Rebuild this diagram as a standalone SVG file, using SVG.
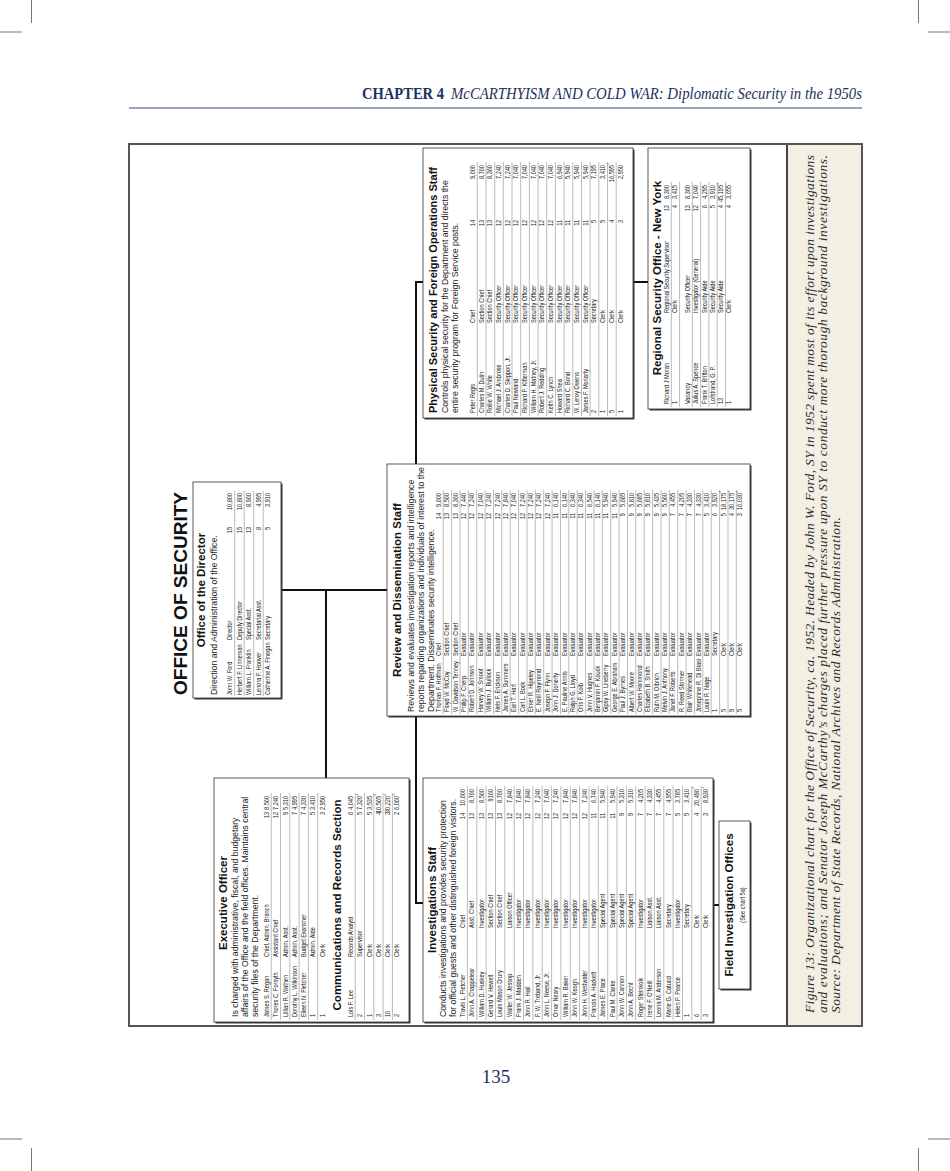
<svg xmlns="http://www.w3.org/2000/svg" width="950" height="1171" viewBox="0 0 950 1171">
<style>
.t{font-family:"Liberation Sans",Arial,sans-serif;font-weight:bold;font-size:11.5px;fill:#111;text-anchor:middle}
.d{font-family:"Liberation Sans",Arial,sans-serif;font-size:8.7px;fill:#222}
.r{font-family:"Liberation Sans",Arial,sans-serif;font-size:8px;fill:#222}
.r .e{text-anchor:end}
.r .m{text-anchor:middle}
.r .a{font-size:6px}
.sep{stroke:#8c8c8c;stroke-width:0.6;fill:none}
.box{fill:#fff;stroke:#333;stroke-width:0.8}
.sh{fill:#3a3a3a}
.conn{stroke:#111;stroke-width:2;fill:none}
.cap{font-family:"Liberation Serif","Times New Roman",serif;font-style:italic;font-size:13.5px;fill:#2b2b2b}
.crop{stroke:#777;stroke-width:1}
</style>
<rect x="0" y="0" width="950" height="1171" fill="#fff"/>
<g id="cropmarks">
<line class="crop" x1="31.5" y1="0" x2="31.5" y2="23"/><line class="crop" x1="0" y1="32" x2="22" y2="32"/>
<line class="crop" x1="918.5" y1="0" x2="918.5" y2="23"/><line class="crop" x1="928" y1="32" x2="950" y2="32"/>
<line class="crop" x1="31.5" y1="1148" x2="31.5" y2="1171"/><line class="crop" x1="0" y1="1139" x2="22" y2="1139"/>
<line class="crop" x1="918.5" y1="1148" x2="918.5" y2="1171"/><line class="crop" x1="928" y1="1139" x2="950" y2="1139"/>
</g>
<g id="header">
<text x="362" y="99" font-family="Liberation Serif,serif" font-weight="bold" font-size="16.5" fill="#1d3160" textLength="82" lengthAdjust="spacingAndGlyphs">CHAPTER 4</text>
<text x="451" y="99" font-family="Liberation Serif,serif" font-style="italic" font-size="16.5" fill="#1d3160" textLength="411" lengthAdjust="spacingAndGlyphs">McCARTHYISM AND COLD WAR: Diplomatic Security in the 1950s</text>
<line x1="129" y1="108" x2="862" y2="108" stroke="#98a6bb" stroke-width="2.2"/>
</g>
<g id="frame">
<rect x="787" y="144" width="75" height="882" fill="#f3efe3"/>
<line x1="787" y1="144" x2="787" y2="1026" stroke="#444" stroke-width="2"/>
<rect x="129" y="144" width="733" height="882" fill="none" stroke="#555" stroke-width="2"/>
</g>
<g id="caption" transform="translate(0,1013) rotate(-90)">
<text class="cap" x="0" y="814" textLength="858" lengthAdjust="spacing">Figure 13: Organizational chart for the Office of Security, ca. 1952.  Headed by John W. Ford, SY in 1952 spent most of its effort upon investigations</text>
<text class="cap" x="0" y="827" textLength="858" lengthAdjust="spacing">and evaluations; and Senator Joseph McCarthy’s charges placed further pressure upon SY to conduct more thorough background investigations.</text>
<text class="cap" x="0" y="840" textLength="496" lengthAdjust="spacing">Source: Department of State Records, National Archives and Records Administration.</text>
</g>
<text id="pagenum" x="496" y="1083" font-family="Liberation Serif,serif" font-size="19" fill="#1d3160" text-anchor="middle">135</text>
<g id="chart-title" transform="translate(187,593.5) rotate(-90)">
<text x="0" y="0" font-family="Liberation Sans,Arial,sans-serif" font-weight="bold" font-size="19" fill="#111" text-anchor="middle" textLength="203" lengthAdjust="spacingAndGlyphs">OFFICE OF SECURITY</text>
</g>
<g id="connectors">
<path class="conn" d="M281,590H387"/>
<path class="conn" d="M326,590V778"/>
<path class="conn" d="M423,282H416V903H423"/>
<path class="conn" d="M633,282H648"/>
<path class="conn" d="M713,905H719"/>
</g>
<g id="director">
<rect class="sh" x="194.5" y="483.5" width="88" height="216"/>
<rect class="box" x="193" y="482" width="88" height="216"/>
<g transform="translate(193,698) rotate(-90)">
<text class="t" x="108" y="12">Office of the Director</text>
<text class="d" x="3" y="24">Direction and Administration of the Office.</text>
<path class="sep" d="M2,41.7H207M2,51.2H207M2,60.7H207M2,70.2H207"/>
<g class="r" transform="scale(0.7,1)">
<text x="4.3" y="39.5">John W. Ford</text><text x="82.9" y="39.5">Director</text><text class="e" x="244.3" y="39.5">15</text><text class="e" x="292.9" y="39.5">10,800</text>
<text x="4.3" y="49">Herbert F. Linneman</text><text x="82.9" y="49">Deputy Director</text><text class="e" x="244.3" y="49">15</text><text class="e" x="292.9" y="49">10,800</text>
<text x="4.3" y="58.5">William L. Franklin</text><text x="82.9" y="58.5">Special Asst.</text><text class="e" x="244.3" y="58.5">13</text><text class="e" x="292.9" y="58.5">8,960</text>
<text x="4.3" y="68">Lenora F. Hoover</text><text x="82.9" y="68">Secretarial Asst.</text><text class="e" x="244.3" y="68">8</text><text class="e" x="292.9" y="68">4,995</text>
<text x="4.3" y="77.5">Catherine A. Finegan</text><text x="82.9" y="77.5">Secretary</text><text class="e" x="244.3" y="77.5">5</text><text class="e" x="292.9" y="77.5">3,910</text>
</g></g></g>
<g id="executive">
<rect class="sh" x="215.5" y="779.5" width="195" height="244"/>
<rect class="box" x="214" y="778" width="195" height="244"/>
<g transform="translate(214,1022) rotate(-90)">
<text class="t" x="119" y="13">Executive Officer</text>
<text class="d" x="5" y="23.5">Is charged with administrative, fiscal, and budgetary</text>
<text class="d" x="5" y="33.5">affairs of the Office and the field offices. Maintains central</text>
<text class="d" x="5" y="43.5">security files of the Department.</text>
<text class="t" x="117" y="127">Communications and Records Section</text>
<path class="sep" d="M2,57.2H229M2,66.5H229M2,75.8H229M2,85.1H229M2,94.4H229M2,103.7H229M2,141.2H229M2,150.5H229M2,159.8H229M2,169.1H229M2,178.4H229"/>
<g class="r" transform="scale(0.7,1)">
<text x="7.1" y="55">James S. Regan</text><text x="92.9" y="55">Chief, Admin. Branch</text><text class="e" x="300" y="55">13</text><text class="e" x="322.9" y="55">8,560</text>
<text x="7.1" y="64.3">Thores C. Forsyth</text><text x="92.9" y="64.3">Assistant Chief</text><text class="e" x="300" y="64.3">12</text><text class="e" x="322.9" y="64.3">7,240</text>
<text x="7.1" y="73.6">Lillian R. Wathen</text><text x="92.9" y="73.6">Admin. Asst.</text><text class="e" x="300" y="73.6">9</text><text class="e" x="322.9" y="73.6">5,310</text>
<text x="7.1" y="82.9">Dorothy L. Wilkinson</text><text x="92.9" y="82.9">Admin. Asst.</text><text class="e" x="300" y="82.9">7</text><text class="e" x="322.9" y="82.9">4,995</text>
<text x="7.1" y="92.2">Eileen N. Fletcher</text><text x="92.9" y="92.2">Budget Examiner</text><text class="e" x="300" y="92.2">7</text><text class="e" x="322.9" y="92.2">4,330</text>
<text x="7.1" y="101.5">1</text><text x="92.9" y="101.5">Admin. Aide</text><text class="e" x="300" y="101.5">5</text><text class="e" x="322.9" y="101.5">3,410</text>
<text x="7.1" y="110.8">1</text><text x="92.9" y="110.8">Clerk</text><text class="e" x="300" y="110.8">3</text><text class="e" x="322.9" y="110.8">2,950</text>
<text x="7.1" y="139">Lois F. Lee</text><text x="92.9" y="139">Records Analyst</text><text class="e" x="300" y="139">6</text><text class="e" x="322.9" y="139">4,045</text>
<text x="7.1" y="148.3">2</text><text x="92.9" y="148.3">Supervisor</text><text class="e" x="300" y="148.3">5</text><text class="e" x="322.9" y="148.3">7,320</text><text class="a" x="323.3" y="145.8">*</text>
<text x="7.1" y="157.6">1</text><text x="92.9" y="157.6">Clerk</text><text class="e" x="300" y="157.6">5</text><text class="e" x="322.9" y="157.6">3,535</text>
<text x="7.1" y="166.9">3</text><text x="92.9" y="166.9">Clerk</text><text class="e" x="300" y="166.9">4</text><text class="e" x="322.9" y="166.9">10,565</text><text class="a" x="323.3" y="164.4">*</text>
<text x="7.1" y="176.2">10</text><text x="92.9" y="176.2">Clerk</text><text class="e" x="300" y="176.2">3</text><text class="e" x="322.9" y="176.2">30,220</text><text class="a" x="323.3" y="173.7">*</text>
<text x="7.1" y="185.5">2</text><text x="92.9" y="185.5">Clerk</text><text class="e" x="300" y="185.5">2</text><text class="e" x="322.9" y="185.5">6,060</text><text class="a" x="323.3" y="183">*</text>
</g></g></g>
<g id="investigations">
<rect class="sh" x="424.5" y="779.5" width="290" height="244"/>
<rect class="box" x="423" y="778" width="290" height="244"/>
<g transform="translate(423,1022) rotate(-90)">
<text class="t" x="122" y="13">Investigations Staff</text>
<text class="d" x="5" y="23">Conducts investigations and provides security protection</text>
<text class="d" x="5" y="32.5">for official guests and other distinguished foreign visitors.</text>
<path class="sep" d="M2,44.4H236M2,53.8H236M2,63.1H236M2,72.5H236M2,81.8H236M2,91.2H236M2,100.5H236M2,109.9H236M2,119.2H236M2,128.6H236M2,137.9H236M2,147.3H236M2,156.6H236M2,166H236M2,175.3H236M2,184.7H236M2,194H236M2,203.4H236M2,212.7H236M2,222.1H236M2,231.4H236M2,240.8H236M2,250.1H236M2,259.5H236M2,268.8H236M2,278.2H236"/>
<g class="r" transform="scale(0.7,1)">
<text x="7.1" y="42">Travis L. Fletcher</text><text x="134.3" y="42">Chief</text><text class="e" x="298.6" y="42">14</text><text class="e" x="332.9" y="42">10,600</text>
<text x="7.1" y="51.4">John A. Chappelear</text><text x="134.3" y="51.4">Asst. Chief</text><text class="e" x="298.6" y="51.4">13</text><text class="e" x="332.9" y="51.4">8,760</text>
<text x="7.1" y="60.7">William D. Huskey</text><text x="134.3" y="60.7">Investigator</text><text class="e" x="298.6" y="60.7">13</text><text class="e" x="332.9" y="60.7">8,560</text>
<text x="7.1" y="70.1">Gerard V. Hewelt</text><text x="134.3" y="70.1">Section Chief</text><text class="e" x="298.6" y="70.1">13</text><text class="e" x="332.9" y="70.1">9160</text>
<text x="7.1" y="79.4">Louis Mason Drury</text><text x="134.3" y="79.4">Section Chief</text><text class="e" x="298.6" y="79.4">13</text><text class="e" x="332.9" y="79.4">8,760</text>
<text x="7.1" y="88.8">Walter W. Jessop</text><text x="134.3" y="88.8">Liaison Officer</text><text class="e" x="298.6" y="88.8">12</text><text class="e" x="332.9" y="88.8">7,840</text>
<text x="7.1" y="98.1">Frank J. Madden</text><text x="134.3" y="98.1">Investigator</text><text class="e" x="298.6" y="98.1">12</text><text class="e" x="332.9" y="98.1">7,840</text>
<text x="7.1" y="107.5">John R. Hall</text><text x="134.3" y="107.5">Investigator</text><text class="e" x="298.6" y="107.5">12</text><text class="e" x="332.9" y="107.5">7,840</text>
<text x="7.1" y="116.8">F. W. Treband, Jr.</text><text x="134.3" y="116.8">Investigator</text><text class="e" x="298.6" y="116.8">12</text><text class="e" x="332.9" y="116.8">7,240</text>
<text x="7.1" y="126.2">John L. Neese, Jr.</text><text x="134.3" y="126.2">Investigator</text><text class="e" x="298.6" y="126.2">12</text><text class="e" x="332.9" y="126.2">7,040</text>
<text x="7.1" y="135.5">Omar Neary</text><text x="134.3" y="135.5">Investigator</text><text class="e" x="298.6" y="135.5">12</text><text class="e" x="332.9" y="135.5">7,240</text>
<text x="7.1" y="144.9">William R. Baker</text><text x="134.3" y="144.9">Investigator</text><text class="e" x="298.6" y="144.9">12</text><text class="e" x="332.9" y="144.9">7,840</text>
<text x="7.1" y="154.2">John W. Keogh</text><text x="134.3" y="154.2">Investigator</text><text class="e" x="298.6" y="154.2">12</text><text class="e" x="332.9" y="154.2">7,840</text>
<text x="7.1" y="163.6">John H. Westwater</text><text x="134.3" y="163.6">Investigator</text><text class="e" x="298.6" y="163.6">12</text><text class="e" x="332.9" y="163.6">7,240</text>
<text x="7.1" y="172.9">Francis A. Hackett</text><text x="134.3" y="172.9">Investigator</text><text class="e" x="298.6" y="172.9">11</text><text class="e" x="332.9" y="172.9">6,740</text>
<text x="7.1" y="182.3">James E. Place</text><text x="134.3" y="182.3">Special Agent</text><text class="e" x="298.6" y="182.3">11</text><text class="e" x="332.9" y="182.3">5,940</text>
<text x="7.1" y="191.6">Paul M. Clarke</text><text x="134.3" y="191.6">Special Agent</text><text class="e" x="298.6" y="191.6">11</text><text class="e" x="332.9" y="191.6">5,940</text>
<text x="7.1" y="201">John W. Cannon</text><text x="134.3" y="201">Special Agent</text><text class="e" x="298.6" y="201">9</text><text class="e" x="332.9" y="201">5,310</text>
<text x="7.1" y="210.3">John A. Becht</text><text x="134.3" y="210.3">Special Agent</text><text class="e" x="298.6" y="210.3">9</text><text class="e" x="332.9" y="210.3">5,310</text>
<text x="7.1" y="219.7">Roger Steinkolk</text><text x="134.3" y="219.7">Investigator</text><text class="e" x="298.6" y="219.7">7</text><text class="e" x="332.9" y="219.7">4,205</text>
<text x="7.1" y="229">Irene F. O'Neill</text><text x="134.3" y="229">Liaison Asst.</text><text class="e" x="298.6" y="229">7</text><text class="e" x="332.9" y="229">4,330</text>
<text x="7.1" y="238.4">Leona M. Anderson</text><text x="134.3" y="238.4">Liaison Asst.</text><text class="e" x="298.6" y="238.4">7</text><text class="e" x="332.9" y="238.4">4,455</text>
<text x="7.1" y="247.7">Marie G. Catucci</text><text x="134.3" y="247.7">Secretary</text><text class="e" x="298.6" y="247.7">7</text><text class="e" x="332.9" y="247.7">4,955</text>
<text x="7.1" y="257.1">Helen P. Pearce</text><text x="134.3" y="257.1">Investigator</text><text class="e" x="298.6" y="257.1">5</text><text class="e" x="332.9" y="257.1">3,785</text>
<text x="7.1" y="266.4">1</text><text x="134.3" y="266.4">Secretary</text><text class="e" x="298.6" y="266.4">5</text><text class="e" x="332.9" y="266.4">3,410</text>
<text x="7.1" y="275.8">6</text><text x="134.3" y="275.8">Clerk</text><text class="e" x="298.6" y="275.8">4</text><text class="e" x="332.9" y="275.8">20,490</text><text class="a" x="333.3" y="273.3">*</text>
<text x="7.1" y="285.1">3</text><text x="134.3" y="285.1">Clerk</text><text class="e" x="298.6" y="285.1">3</text><text class="e" x="332.9" y="285.1">8,930</text><text class="a" x="333.3" y="282.6">*</text>
</g></g></g>
<g id="field-offices">
<rect class="sh" x="720.5" y="822.5" width="31" height="168"/>
<rect class="box" x="719" y="821" width="31" height="168"/>
<g transform="translate(719,989) rotate(-90)">
<text class="t" x="84" y="14">Field Investigation Offices</text>
<g class="r" transform="scale(0.7,1)"><text class="m" x="120" y="26">(See chart 5a)</text></g>
</g></g>
<g id="review">
<rect class="sh" x="388.5" y="465.5" width="363" height="252"/>
<rect class="box" x="387" y="464" width="363" height="252"/>
<g transform="translate(387,716) rotate(-90)">
<text class="t" x="126" y="14">Review and Dissemination Staff</text>
<text class="d" x="4" y="26.5">Reviews and evaluates investigation reports and intelligence</text>
<text class="d" x="4" y="36.5">reports regarding organizations and individuals of interest to the</text>
<text class="d" x="4" y="46.5">Department. Disseminates security intelligence.</text>
<path class="sep" d="M2,56.2H226M2,64.6H226M2,73H226M2,81.3H226M2,89.7H226M2,98.1H226M2,106.5H226M2,114.8H226M2,123.2H226M2,131.6H226M2,140H226M2,148.3H226M2,156.7H226M2,165.1H226M2,173.5H226M2,181.8H226M2,190.2H226M2,198.6H226M2,207H226M2,215.3H226M2,223.7H226M2,232.1H226M2,240.5H226M2,248.8H226M2,257.2H226M2,265.6H226M2,274H226M2,282.3H226M2,290.7H226M2,299.1H226M2,307.5H226M2,315.8H226M2,324.2H226M2,332.6H226M2,341H226M2,349.3H226"/>
<g class="r" transform="scale(0.7,1)">
<text x="5.7" y="54">Thomas F. Hoffman</text><text x="85.7" y="54">Chief</text><text class="e" x="290" y="54">14</text><text class="e" x="318.6" y="54">9,600</text>
<text x="5.7" y="62.4">Floyd W. McCoy</text><text x="85.7" y="62.4">Section Chief</text><text class="e" x="290" y="62.4">13</text><text class="e" x="318.6" y="62.4">8,560</text>
<text x="5.7" y="70.8">W. Davidson Tenney</text><text x="85.7" y="70.8">Section Chief</text><text class="e" x="290" y="70.8">13</text><text class="e" x="318.6" y="70.8">8,360</text>
<text x="5.7" y="79.1">Philip F. Cherp</text><text x="85.7" y="79.1">Evaluator</text><text class="e" x="290" y="79.1">12</text><text class="e" x="318.6" y="79.1">7,440</text>
<text x="5.7" y="87.5">Robert D. Johnson</text><text x="85.7" y="87.5">Evaluator</text><text class="e" x="290" y="87.5">12</text><text class="e" x="318.6" y="87.5">7,240</text>
<text x="5.7" y="95.9">Harvey W. Smoot</text><text x="85.7" y="95.9">Evaluator</text><text class="e" x="290" y="95.9">12</text><text class="e" x="318.6" y="95.9">7,040</text>
<text x="5.7" y="104.3">William J. Bullock</text><text x="85.7" y="104.3">Evaluator</text><text class="e" x="290" y="104.3">12</text><text class="e" x="318.6" y="104.3">7,240</text>
<text x="5.7" y="112.6">Nels F. Erickson</text><text x="85.7" y="112.6">Evaluator</text><text class="e" x="290" y="112.6">12</text><text class="e" x="318.6" y="112.6">7,240</text>
<text x="5.7" y="121">James A. Summers</text><text x="85.7" y="121">Evaluator</text><text class="e" x="290" y="121">12</text><text class="e" x="318.6" y="121">7,840</text>
<text x="5.7" y="129.4">Earl T. Hart</text><text x="85.7" y="129.4">Evaluator</text><text class="e" x="290" y="129.4">12</text><text class="e" x="318.6" y="129.4">7,040</text>
<text x="5.7" y="137.8">Carl L. Bock</text><text x="85.7" y="137.8">Evaluator</text><text class="e" x="290" y="137.8">12</text><text class="e" x="318.6" y="137.8">7,240</text>
<text x="5.7" y="146.1">Elmer R. Hipeley</text><text x="85.7" y="146.1">Evaluator</text><text class="e" x="290" y="146.1">12</text><text class="e" x="318.6" y="146.1">7,240</text>
<text x="5.7" y="154.5">E. Neill Raymond</text><text x="85.7" y="154.5">Evaluator</text><text class="e" x="290" y="154.5">12</text><text class="e" x="318.6" y="154.5">7,240</text>
<text x="5.7" y="162.9">Joseph F. Flynn</text><text x="85.7" y="162.9">Evaluator</text><text class="e" x="290" y="162.9">12</text><text class="e" x="318.6" y="162.9">7,240</text>
<text x="5.7" y="171.3">John J. Doherty</text><text x="85.7" y="171.3">Evaluator</text><text class="e" x="290" y="171.3">11</text><text class="e" x="318.6" y="171.3">6,140</text>
<text x="5.7" y="179.6">E. Pauline Annis</text><text x="85.7" y="179.6">Evaluator</text><text class="e" x="290" y="179.6">11</text><text class="e" x="318.6" y="179.6">6,140</text>
<text x="5.7" y="188">Ralph G. Lloyd</text><text x="85.7" y="188">Evaluator</text><text class="e" x="290" y="188">11</text><text class="e" x="318.6" y="188">6,340</text>
<text x="5.7" y="196.4">Oris F. Kolb</text><text x="85.7" y="196.4">Evaluator</text><text class="e" x="290" y="196.4">11</text><text class="e" x="318.6" y="196.4">6,340</text>
<text x="5.7" y="204.8">John V. Hughes</text><text x="85.7" y="204.8">Evaluator</text><text class="e" x="290" y="204.8">11</text><text class="e" x="318.6" y="204.8">6,540</text>
<text x="5.7" y="213.1">Benjamin F. Kouck</text><text x="85.7" y="213.1">Evaluator</text><text class="e" x="290" y="213.1">11</text><text class="e" x="318.6" y="213.1">6,140</text>
<text x="5.7" y="221.5">Gipsy W. Lineberry</text><text x="85.7" y="221.5">Evaluator</text><text class="e" x="290" y="221.5">11</text><text class="e" x="318.6" y="221.5">5,940</text>
<text x="5.7" y="229.9">George E. Abraham</text><text x="85.7" y="229.9">Evaluator</text><text class="e" x="290" y="229.9">11</text><text class="e" x="318.6" y="229.9">5,940</text>
<text x="5.7" y="238.3">Paul J. Byrnes</text><text x="85.7" y="238.3">Evaluator</text><text class="e" x="290" y="238.3">9</text><text class="e" x="318.6" y="238.3">5,685</text>
<text x="5.7" y="246.6">Albert W. Moore</text><text x="85.7" y="246.6">Evaluator</text><text class="e" x="290" y="246.6">9</text><text class="e" x="318.6" y="246.6">5,810</text>
<text x="5.7" y="255">Charles Hammond</text><text x="85.7" y="255">Evaluator</text><text class="e" x="290" y="255">9</text><text class="e" x="318.6" y="255">5,685</text>
<text x="5.7" y="263.4">Elizabeth B. Smith</text><text x="85.7" y="263.4">Evaluator</text><text class="e" x="290" y="263.4">9</text><text class="e" x="318.6" y="263.4">5,810</text>
<text x="5.7" y="271.8">Ruth M. Olbrich</text><text x="85.7" y="271.8">Evaluator</text><text class="e" x="290" y="271.8">9</text><text class="e" x="318.6" y="271.8">5,435</text>
<text x="5.7" y="280.1">Melvin J. Anthony</text><text x="85.7" y="280.1">Evaluator</text><text class="e" x="290" y="280.1">9</text><text class="e" x="318.6" y="280.1">5,560</text>
<text x="5.7" y="288.5">Janet F. Roberts</text><text x="85.7" y="288.5">Evaluator</text><text class="e" x="290" y="288.5">7</text><text class="e" x="318.6" y="288.5">4,455</text>
<text x="5.7" y="296.9">R. Reed Stormer</text><text x="85.7" y="296.9">Evaluator</text><text class="e" x="290" y="296.9">7</text><text class="e" x="318.6" y="296.9">4,205</text>
<text x="5.7" y="305.3">Blair Whitehead</text><text x="85.7" y="305.3">Evaluator</text><text class="e" x="290" y="305.3">7</text><text class="e" x="318.6" y="305.3">4,330</text>
<text x="5.7" y="313.6">Josephine R. Di Blasi</text><text x="85.7" y="313.6">Evaluator</text><text class="e" x="290" y="313.6">7</text><text class="e" x="318.6" y="313.6">4,330</text>
<text x="5.7" y="322">Louis R. Nage</text><text x="85.7" y="322">Evaluator</text><text class="e" x="290" y="322">5</text><text class="e" x="318.6" y="322">3,410</text>
<text x="5.7" y="330.4">1</text><text x="85.7" y="330.4">Secretary</text><text class="e" x="290" y="330.4">6</text><text class="e" x="318.6" y="330.4">3,920</text>
<text x="5.7" y="338.8">5</text><text x="85.7" y="338.8">Clerk</text><text class="e" x="290" y="338.8">5</text><text class="e" x="318.6" y="338.8">18,175</text><text class="a" x="319" y="336.3">*</text>
<text x="5.7" y="347.1">9</text><text x="85.7" y="347.1">Clerk</text><text class="e" x="290" y="347.1">4</text><text class="e" x="318.6" y="347.1">30,175</text><text class="a" x="319" y="344.6">*</text>
<text x="5.7" y="355.5">5</text><text x="85.7" y="355.5">Clerk</text><text class="e" x="290" y="355.5">3</text><text class="e" x="318.6" y="355.5">16,030</text><text class="a" x="319" y="353">*</text>
</g></g></g>
<g id="physical">
<rect class="sh" x="424.5" y="149.5" width="210" height="270"/>
<rect class="box" x="423" y="148" width="210" height="270"/>
<g transform="translate(423,418) rotate(-90)">
<text class="t" x="128" y="14" font-size="11" textLength="246" lengthAdjust="spacingAndGlyphs">Physical Security and Foreign Operations Staff</text>
<text class="d" x="5" y="25">Controls physical security for the Department and directs the</text>
<text class="d" x="5" y="35">entire security program for Foreign Service posts.</text>
<path class="sep" d="M2,54.3H256M2,63H256M2,71.7H256M2,80.3H256M2,89H256M2,97.7H256M2,106.4H256M2,115.1H256M2,123.7H256M2,132.4H256M2,141.1H256M2,149.8H256M2,158.5H256M2,167.1H256M2,175.8H256M2,184.5H256M2,193.2H256"/>
<g class="r" transform="scale(0.7,1)">
<text x="7.1" y="52">Peter Regis</text><text x="135.7" y="52">Chief</text><text class="e" x="282.9" y="52">14</text><text class="e" x="361.4" y="52">9,600</text>
<text x="7.1" y="60.7">Charles M. Dulin</text><text x="135.7" y="60.7">Section Chief</text><text class="e" x="282.9" y="60.7">13</text><text class="e" x="361.4" y="60.7">8,760</text>
<text x="7.1" y="69.4">Rollie W. White</text><text x="135.7" y="69.4">Section Chief</text><text class="e" x="282.9" y="69.4">13</text><text class="e" x="361.4" y="69.4">8,360</text>
<text x="7.1" y="78">Michael J. Ambrose</text><text x="135.7" y="78">Security Officer</text><text class="e" x="282.9" y="78">12</text><text class="e" x="361.4" y="78">7,240</text>
<text x="7.1" y="86.7">Charles D. Skippon, Jr.</text><text x="135.7" y="86.7">Security Officer</text><text class="e" x="282.9" y="86.7">12</text><text class="e" x="361.4" y="86.7">7,240</text>
<text x="7.1" y="95.4">Paul Newland</text><text x="135.7" y="95.4">Security Officer</text><text class="e" x="282.9" y="95.4">12</text><text class="e" x="361.4" y="95.4">7,040</text>
<text x="7.1" y="104.1">Richard F. Kitterman</text><text x="135.7" y="104.1">Security Officer</text><text class="e" x="282.9" y="104.1">12</text><text class="e" x="361.4" y="104.1">7,040</text>
<text x="7.1" y="112.8">William H. Matney, Jr.</text><text x="135.7" y="112.8">Security Officer</text><text class="e" x="282.9" y="112.8">12</text><text class="e" x="361.4" y="112.8">7,040</text>
<text x="7.1" y="121.4">Robert J. Redding</text><text x="135.7" y="121.4">Security Officer</text><text class="e" x="282.9" y="121.4">12</text><text class="e" x="361.4" y="121.4">7,040</text>
<text x="7.1" y="130.1">Keith C. Lynch</text><text x="135.7" y="130.1">Security Officer</text><text class="e" x="282.9" y="130.1">12</text><text class="e" x="361.4" y="130.1">7,040</text>
<text x="7.1" y="138.8">Howard Shea</text><text x="135.7" y="138.8">Security Officer</text><text class="e" x="282.9" y="138.8">11</text><text class="e" x="361.4" y="138.8">6,940</text>
<text x="7.1" y="147.5">Richard C. Bond</text><text x="135.7" y="147.5">Security Officer</text><text class="e" x="282.9" y="147.5">11</text><text class="e" x="361.4" y="147.5">5,940</text>
<text x="7.1" y="156.2">W. Leroy Owens</text><text x="135.7" y="156.2">Security Officer</text><text class="e" x="282.9" y="156.2">11</text><text class="e" x="361.4" y="156.2">5,940</text>
<text x="7.1" y="164.8">James F. Moriarty</text><text x="135.7" y="164.8">Security Officer</text><text class="e" x="282.9" y="164.8">11</text><text class="e" x="361.4" y="164.8">5,940</text>
<text x="7.1" y="173.5">2</text><text x="135.7" y="173.5">Secretary</text><text class="e" x="282.9" y="173.5">5</text><text class="e" x="361.4" y="173.5">7,195</text>
<text x="7.1" y="182.2">1</text><text x="135.7" y="182.2">Clerk</text><text class="e" x="282.9" y="182.2">5</text><text class="e" x="361.4" y="182.2">3,410</text>
<text x="7.1" y="190.9">5</text><text x="135.7" y="190.9">Clerk</text><text class="e" x="282.9" y="190.9">4</text><text class="e" x="361.4" y="190.9">16,595</text><text class="a" x="361.8" y="188.4">*</text>
<text x="7.1" y="199.6">1</text><text x="135.7" y="199.6">Clerk</text><text class="e" x="282.9" y="199.6">3</text><text class="e" x="361.4" y="199.6">2,950</text>
</g></g></g>
<g id="regional-ny">
<rect class="sh" x="649.5" y="149.5" width="102" height="261"/>
<rect class="box" x="648" y="148" width="102" height="261"/>
<g transform="translate(648,409) rotate(-90)">
<text class="t" x="131" y="13" font-size="10.5">Regional Security Office - New York</text>
<path class="sep" d="M2,23.3H227M2,31.6H227M2,44.3H227M2,52.6H227M2,60.9H227M2,69.2H227M2,77.5H227"/>
<g class="r" transform="scale(0.7,1)">
<text x="7.1" y="21">Richard J Moran</text><text x="137.1" y="21">Regional Security Supervisor</text><text class="e" x="291.4" y="21">13</text><text class="e" x="320" y="21">8,360</text>
<text x="7.1" y="29.3">1</text><text x="137.1" y="29.3">Clerk</text><text class="e" x="291.4" y="29.3">4</text><text class="e" x="320" y="29.3">3,415</text>
<text x="7.1" y="42">Vacancy</text><text x="137.1" y="42">Security Officer</text><text class="e" x="291.4" y="42">13</text><text class="e" x="320" y="42">8,360</text>
<text x="7.1" y="50.3">Julius A. Spence</text><text x="137.1" y="50.3">Investigator (General)</text><text class="e" x="291.4" y="50.3">12</text><text class="e" x="320" y="50.3">7,040</text>
<text x="7.1" y="58.6">Frank T. Britton</text><text x="137.1" y="58.6">Security Aide</text><text class="e" x="291.4" y="58.6">6</text><text class="e" x="320" y="58.6">4,295</text>
<text x="7.1" y="66.9">Lofstrand, G. P.</text><text x="137.1" y="66.9">Security Aide</text><text class="e" x="291.4" y="66.9">5</text><text class="e" x="320" y="66.9">3,910</text>
<text x="7.1" y="75.2">13</text><text x="137.1" y="75.2">Security Aide</text><text class="e" x="291.4" y="75.2">4</text><text class="e" x="320" y="75.2">45,195</text><text class="a" x="320.4" y="72.7">*</text>
<text x="7.1" y="83.5">1</text><text x="137.1" y="83.5">Clerk</text><text class="e" x="291.4" y="83.5">4</text><text class="e" x="320" y="83.5">3,655</text>
</g></g></g>
</svg>
